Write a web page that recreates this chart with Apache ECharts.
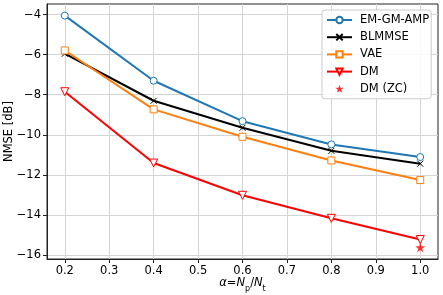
<!DOCTYPE html>
<html><head><meta charset="utf-8">
<script src="https://cdn.jsdelivr.net/npm/echarts@6/dist/echarts.min.js"></script>
<style>html,body{margin:0;padding:0;background:#fff}#c{width:443px;height:295px}</style>
</head><body><div id="c"></div>
<script>
const alphas = [0.2, 0.4, 0.6, 0.8, 1.0];
const emgmamp = [-4.05, -7.30, -9.32, -10.48, -11.11];
const blmmse = [-5.95, -8.30, -9.65, -10.80, -11.44];
const vae = [-5.79, -8.73, -10.10, -11.28, -12.26];
const dm = [-7.85, -11.41, -13.02, -14.17, -15.23];
const dmzcX = [1.0];
const dmzc = [-15.62];
const xTicks = [0.2, 0.3, 0.4, 0.5, 0.6, 0.7, 0.8, 0.9, 1.0];
const yTicks = [-16, -14, -12, -10, -8, -6, -4];

const font = 'DejaVu Sans';
const pair = (xs, ys) => xs.map((x, i) => [x, ys[i]]);
const STAR = 'path://M50,0 L61.8,36.2 L100,36.2 L69.1,58.6 L80.9,95.1 L50,72.6 L19.1,95.1 L30.9,58.6 L0,36.2 L38.2,36.2 Z';
const TRI_DOWN = 'path://M0,0 L10,0 L5,9 Z';
const XMARK = 'path://M0,0 L10,10 M10,0 L0,10';
const fmt = v => (v < 0 ? '\u2212' + Math.abs(v) : String(v));

const chart = echarts.init(document.getElementById('c'), null, {renderer: 'canvas'});
function lineSeries(name, data, color, symbol, size, extra) {
  return Object.assign({
    name, type: 'line', data: pair(alphas, data),
    symbol, symbolSize: size, showSymbol: true,
    lineStyle: {color, width: 2},
    itemStyle: {color: '#fff', borderColor: color, borderWidth: 1},
    emphasis: {disabled: true},
    z: 3
  }, extra || {});
}
chart.setOption({
  animation: false,
  backgroundColor: '#fff',
  grid: {left: 47, right: 5, top: 4, bottom: 36, show: true, borderColor: '#222', borderWidth: 1,
         backgroundColor: 'transparent', containLabel: false, outerBoundsMode: 'none'},
  xAxis: {
    type: 'value', min: 0.16, max: 1.04,
    name: '{i|α}={i|N}{s|p}/{i|N}{s|t}', nameLocation: 'middle', nameGap: 18, nameMoveOverlap: false,
    nameTextStyle: {fontFamily: font, fontSize: 11.5, color: '#000',
      rich: {i: {fontFamily: font, fontStyle: 'italic', fontSize: 11.5, color: '#000'},
             s: {fontFamily: font, fontSize: 8, color: '#000', verticalAlign: 'bottom', padding: [0,0,-4,0]}}},
    axisLine: {show: true, onZero: false, lineStyle: {color: '#222'}},
    axisTick: {show: true, length: 4, inside: false, lineStyle: {color: '#222'}, customValues: xTicks},
    axisLabel: {customValues: xTicks, fontFamily: font, fontSize: 11.5, color: '#000', margin: 6, formatter: v => v.toFixed(1)},
    splitLine: {show: true, lineStyle: {color: '#d4d4d4', width: 1}}
  },
  yAxis: {
    type: 'value', min: -16.2, max: -3.47,
    name: 'NMSE [dB]', nameLocation: 'middle', nameGap: 32, nameRotate: 90, nameMoveOverlap: false,
    nameTextStyle: {fontFamily: font, fontSize: 11.5, color: '#000'},
    axisLine: {show: true, onZero: false, lineStyle: {color: '#222'}},
    axisTick: {show: true, length: 4, lineStyle: {color: '#222'}, customValues: yTicks},
    axisLabel: {customValues: yTicks, fontFamily: font, fontSize: 11.5, color: '#000', margin: 6, formatter: fmt},
    splitLine: {show: true, lineStyle: {color: '#d4d4d4', width: 1}}
  },
  legend: {
    orient: 'vertical', left: 322, top: 10,
    padding: [3, 2, 3, 4],
    itemWidth: 25, itemHeight: 8, itemGap: 3.2,
    backgroundColor: 'rgba(255,255,255,0.85)', borderColor: '#cccccc', borderWidth: 1, borderRadius: 3,
    textStyle: {fontFamily: font, fontSize: 11.5, color: '#000', padding: [0,0,0,3], lineHeight: 14},
    data: ['EM-GM-AMP', 'BLMMSE', 'VAE', 'DM', 'DM (ZC)']
  },
  series: [
    lineSeries('EM-GM-AMP', emgmamp, '#1f77b4', 'circle', 7),
    lineSeries('BLMMSE', blmmse, '#000000', XMARK, 6, {itemStyle: {color: 'none', borderColor: '#000', borderWidth: 1}}),
    lineSeries('VAE', vae, '#ff7f0e', 'rect', 7),
    lineSeries('DM', dm, '#ff0000', TRI_DOWN, 8),
    {name: 'DM (ZC)', type: 'scatter', data: pair(dmzcX, dmzc), symbol: STAR, symbolSize: 10,
     itemStyle: {color: '#ff0000'}, z: 4, emphasis: {disabled: true}}
  ]
});
</script></body></html>
